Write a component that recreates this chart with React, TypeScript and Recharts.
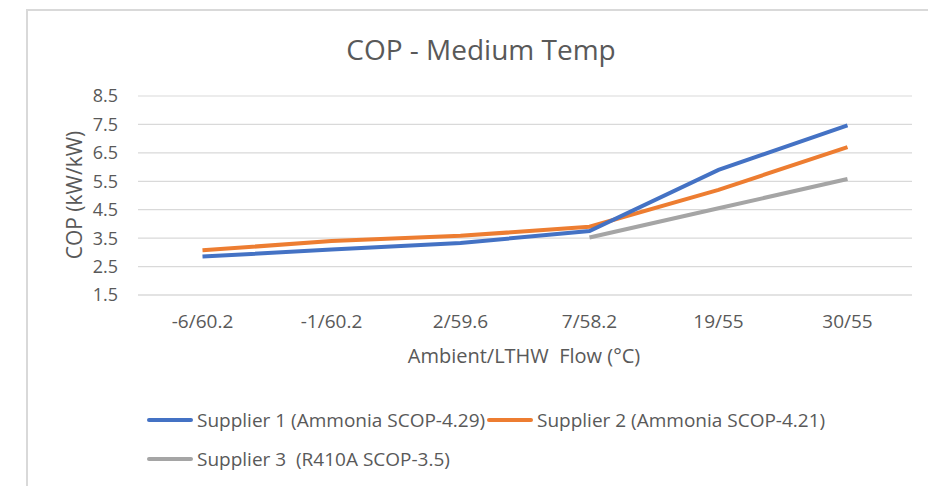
import { LineChart, Line, XAxis, YAxis, CartesianGrid } from "recharts";

// 外気温/LTHW流量温度
const categories = ["-6/60.2", "-1/60.2", "2/59.6", "7/58.2", "19/55", "30/55"];
const supplier1 = [2.85, 3.1, 3.33, 3.75, 5.9, 7.47];
const supplier2 = [3.07, 3.4, 3.58, 3.9, 5.2, 6.7];
const supplier3 = [null, null, null, 3.52, 4.55, 5.58];
const seriesNames = [
  "Supplier 1 (Ammonia SCOP-4.29)",
  "Supplier 2 (Ammonia SCOP-4.21)",
  "Supplier 3  (R410A SCOP-3.5)",
];
const seriesColors = ["#4472C4", "#ED7D31", "#A5A5A5"];
const yTicks = [1.5, 2.5, 3.5, 4.5, 5.5, 6.5, 7.5, 8.5];

const FONT = "'Open Sans', 'Noto Sans', sans-serif";
const TEXT = "#595959";

const data = categories.map((c, i) => ({
  name: c,
  s1: supplier1[i],
  s2: supplier2[i],
  s3: supplier3[i],
}));

const LegendItem = ({ name, color, left, top }: { name: string; color: string; left: number; top: number }) => (
  <div style={{ position: "absolute", left, top, height: 24, display: "flex", alignItems: "center", whiteSpace: "pre" }}>
    <div style={{ width: 46, height: 4, background: color, borderRadius: 2, marginRight: 4 }} />
    <span style={{ fontSize: 19, lineHeight: "24px", color: TEXT }}>{name}</span>
  </div>
);

export default function App() {
  return (
    <div style={{ position: "absolute", left: 0, top: 0, width: 928, height: 486, background: "#fff", fontFamily: FONT, overflow: "hidden" }}>
      {/* 枠線 */}
      <div
        style={{
          position: "absolute",
          left: 26,
          top: 9,
          width: 920,
          height: 490,
          borderTop: "2px solid #d9d9d9",
          borderLeft: "2px solid #d9d9d9",
        }}
      />
      <div style={{ position: "absolute", left: 281, width: 400, top: 35, textAlign: "center", fontSize: 28, lineHeight: "28px", color: TEXT }}>
        COP - Medium Temp
      </div>
      <div
        style={{
          position: "absolute",
          left: 74,
          top: 195,
          transform: "translate(-50%, -50%) rotate(-90deg)",
          fontSize: 21,
          lineHeight: "21px",
          color: TEXT,
          whiteSpace: "nowrap",
        }}
      >
        COP (kW/kW)
      </div>
      <div style={{ position: "absolute", left: 324, width: 400, top: 344, textAlign: "center", fontSize: 20, lineHeight: "24px", color: TEXT, whiteSpace: "pre" }}>
        {"Ambient/LTHW  Flow (°C)"}
      </div>
      <LineChart width={928} height={486} data={data} margin={{ top: 96, right: 16, bottom: 161, left: 78 }}>
        <CartesianGrid vertical={false} stroke="#d9d9d9" strokeWidth={1.2} />
        <XAxis
          dataKey="name"
          axisLine={{ stroke: "#d9d9d9", strokeWidth: 1.2 }}
          tickLine={false}
          tickMargin={14}
          padding={{ left: 64.5, right: 64.5 }}
          tick={{ fill: TEXT, fontSize: 19, fontFamily: FONT }}
          height={30}
        />
        <YAxis
          domain={[1.5, 8.5]}
          ticks={yTicks}
          width={60}
          axisLine={false}
          tickLine={false}
          tickMargin={14}
          tickFormatter={(v) => v.toFixed(1)}
          tick={{ fill: TEXT, fontSize: 18, fontFamily: FONT }}
        />
        <Line dataKey="s3" stroke={seriesColors[2]} strokeWidth={4} dot={false} isAnimationActive={false} />
        <Line dataKey="s2" stroke={seriesColors[1]} strokeWidth={4} dot={false} isAnimationActive={false} />
        <Line dataKey="s1" stroke={seriesColors[0]} strokeWidth={4} dot={false} isAnimationActive={false} />
      </LineChart>
      <LegendItem name={seriesNames[0]} color={seriesColors[0]} left={147} top={408} />
      <LegendItem name={seriesNames[1]} color={seriesColors[1]} left={487} top={408} />
      <LegendItem name={seriesNames[2]} color={seriesColors[2]} left={147} top={447} />
    </div>
  );
}
